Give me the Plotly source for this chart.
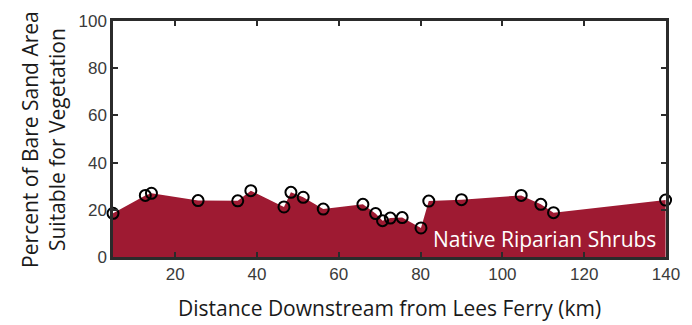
import plotly.graph_objects as go

# Distance downstream from Lees Ferry (km) and percent of bare sand suitable for vegetation
distance_km = [4.8, 12.7, 14.2, 25.6, 35.3, 38.5, 46.6, 48.3, 51.3, 56.2, 65.9,
               69.0, 70.7, 72.6, 75.5, 80.1, 82.0, 90.0, 104.6, 109.4, 112.5, 139.9]
percent_suitable = [18.5, 26.1, 27.0, 23.9, 23.8, 28.1, 21.2, 27.4, 25.3, 20.3, 22.3,
                    18.4, 15.4, 16.5, 16.7, 12.3, 23.7, 24.3, 26.1, 22.3, 18.8, 24.1]

x_ticks = [20, 40, 60, 80, 100, 120, 140]
y_ticks = [0, 20, 40, 60, 80, 100]

fill_color = "#9E1A32"
axis_color = "#2b2b2b"
title_font = dict(family="Open Sans", size=21, color="#1a1a1a")

fig = go.Figure()

# Shaded area under the curve
fig.add_trace(go.Scatter(
    x=distance_km, y=percent_suitable,
    mode="lines", line=dict(width=0, color=fill_color),
    fill="tozeroy", fillcolor=fill_color,
    hoverinfo="skip", showlegend=False,
))

# Open circle markers at each site
fig.add_trace(go.Scatter(
    x=distance_km, y=percent_suitable,
    mode="markers",
    marker=dict(symbol="circle-open", size=11, color="black", line=dict(width=2)),
    showlegend=False, cliponaxis=False,
))

fig.add_annotation(
    x=110.4, y=7.6, xref="x", yref="y",
    text="Native Riparian Shrubs", showarrow=False,
    font=dict(family="Open Sans", size=21, color="white"),
)

fig.add_annotation(
    x=-0.1268, y=0.5, xref="paper", yref="paper",
    text="Percent of Bare Sand Area<br>Suitable for Vegetation",
    textangle=-90, showarrow=False,
    xanchor="center", yanchor="middle",
    font=title_font,
)

fig.add_annotation(
    x=0.5, y=-0.215, xref="paper", yref="paper",
    text="Distance Downstream from Lees Ferry (km)",
    showarrow=False, xanchor="center", yanchor="middle",
    font=title_font,
)

axis_common = dict(
    showline=True, linecolor=axis_color, linewidth=2.5, mirror="ticks",
    ticks="inside", ticklen=5, tickwidth=1.5, tickcolor=axis_color,
    showgrid=False, zeroline=False,
    tickfont=dict(family="Liberation Sans", size=17, color="#3a3a3a"),
)

fig.update_xaxes(range=[4.8, 140], tickvals=x_ticks, **axis_common)
fig.update_yaxes(range=[0, 100], tickvals=y_ticks, **axis_common)

fig.update_layout(
    width=692, height=325,
    margin=dict(l=113, r=23, t=16, b=68),
    plot_bgcolor="white", paper_bgcolor="white",
)

fig.write_html("out.html")
